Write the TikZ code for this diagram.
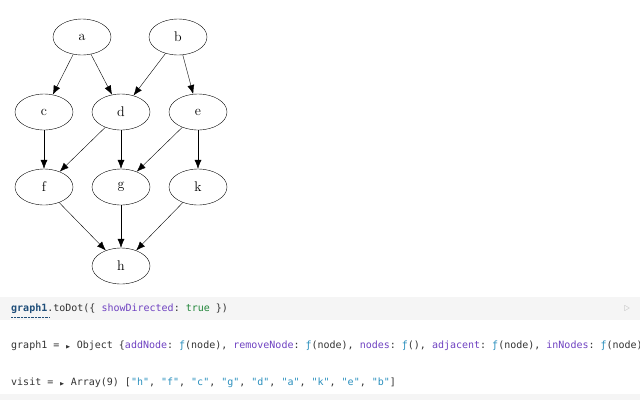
\documentclass[tikz,border=0pt]{standalone}
\usepackage{amssymb}
\usepackage{fontspec}
\setmonofont{DejaVu Sans Mono}
\usetikzlibrary{shapes.geometric,arrows.meta}
\definecolor{codebg}{HTML}{F5F5F5}
\definecolor{kw}{HTML}{6F42C1}
\definecolor{str}{HTML}{2A8FBD}
\definecolor{tru}{HTML}{22863A}
\definecolor{vname}{HTML}{1F4E79}
\definecolor{plain}{HTML}{333333}
\newcommand{\kk}[1]{\textcolor{kw}{#1}}
\newcommand{\qs}[1]{\textcolor{str}{#1}}
\newcommand{\ff}{\textcolor{str}{ƒ}}
\newcommand{\tri}{{\tiny$\blacktriangleright$}}

\begin{document}
\begin{tikzpicture}[x=1pt,y=-1pt,
  vertex/.style={ellipse,draw,minimum width=58pt,minimum height=36pt,inner sep=0pt,font=\fontsize{14}{16}\selectfont},
  edge/.style={-{Latex[length=9pt,width=7pt]},thin},
  code/.style={anchor=west,inner sep=0pt,text=plain,font=\ttfamily\fontsize{10}{12}\selectfont}]
\useasboundingbox (0,0) rectangle (640,400);
\fill[codebg] (0,297) rectangle (640,320);
\fill[codebg] (0,394) rectangle (640,400);
% graph
\node[vertex] (a) at (82,37) {a};
\node[vertex] (b) at (178,37) {b};
\node[vertex] (c) at (44,112) {c};
\node[vertex] (d) at (121,112) {d};
\node[vertex] (e) at (198,112) {e};
\node[vertex] (f) at (44,187) {f};
\node[vertex] (g) at (121,187) {g};
\node[vertex] (k) at (198,187) {k};
\node[vertex] (h) at (121,266) {h};
\foreach \s/\t in {a/c,a/d,b/d,b/e,c/f,d/f,d/g,e/g,e/k,f/h,g/h,k/h}
  \draw[edge] (\s) -- (\t);
% cells
\node[code] (cell1) at (11,309) {\textbf{\textcolor{vname}{graph1}}.toDot(\{ \kk{showDirected}: \textcolor{tru}{true} \})};
\draw[densely dotted,vname] (11,317) -- (50,317);
\node[text=black!25,font=\fontsize{12}{12}\selectfont] (run) at (627,309) {$\triangleright$};
\begin{scope}
\clip (0,330) rectangle (640,360);
\node[code] (cell2) at (11,346) {graph1 = \tri{} Object \{\kk{addNode}: \ff(node), \kk{removeNode}: \ff(node), \kk{nodes}: \ff(), \kk{adjacent}: \ff(node), \kk{inNodes}: \ff(node)\}};
\end{scope}
\node[code] (cell3) at (11,383) {visit = \tri{} Array(9) [\qs{"h"}, \qs{"f"}, \qs{"c"}, \qs{"g"}, \qs{"d"}, \qs{"a"}, \qs{"k"}, \qs{"e"}, \qs{"b"}]};
\end{tikzpicture}
\end{document}
